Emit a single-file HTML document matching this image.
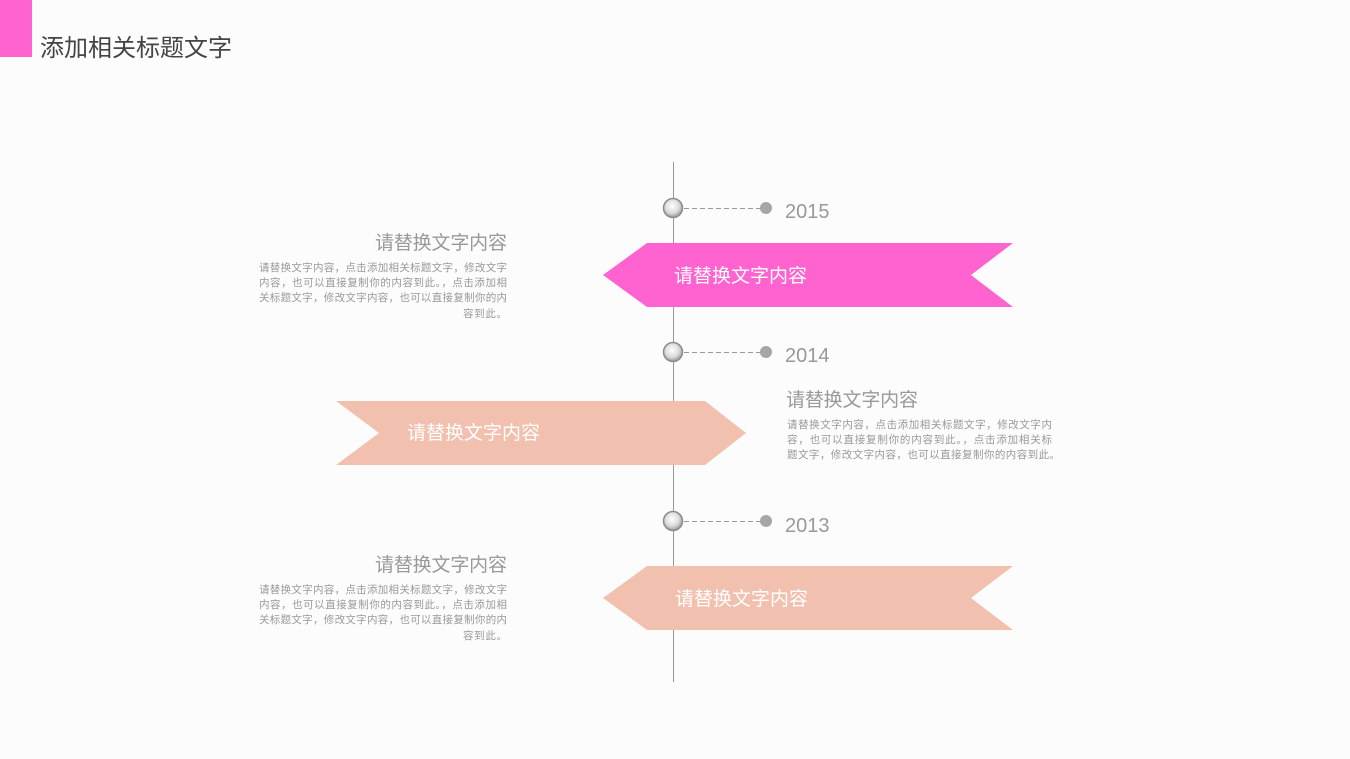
<!DOCTYPE html>
<html><head><meta charset="utf-8"><style>
body{margin:0;width:1350px;height:759px;background:#fcfcfc;overflow:hidden;font-family:"Liberation Sans","Noto Sans CJK SC",sans-serif}
</style></head><body>
<svg width="1350" height="759" xmlns="http://www.w3.org/2000/svg" style="position:absolute;left:0;top:0;font-family:'Liberation Sans','Noto Sans CJK SC',sans-serif">
<defs><radialGradient id="g" cx="45%" cy="40%" r="60%"><stop offset="0" stop-color="#ffffff"/><stop offset="0.6" stop-color="#dcdcdc"/><stop offset="1" stop-color="#9a9a9a"/></radialGradient></defs>
<rect x="0" y="0" width="32" height="57" fill="#ff63d0"/>
<text x="40" y="56" font-size="24" fill="#444" textLength="192">添加相关标题文字</text>
<line x1="673.5" y1="162" x2="673.5" y2="682" stroke="#999" stroke-width="1"/>
<polygon points="603,275 647,243 1013,243 971,275 1013,307 647,307" fill="#ff63d0"/>
<polygon points="336,401 705,401 746,433 705,465 336,465 379,433" fill="#f2c0ae"/>
<polygon points="603,598 647,566 1013,566 971,598 1013,630 647,630" fill="#f2c0ae"/>
<g stroke="#999" stroke-dasharray="5,3" stroke-width="1">
<line x1="684" y1="208.5" x2="762" y2="208.5"/><line x1="684" y1="352.5" x2="762" y2="352.5"/><line x1="684" y1="521.5" x2="762" y2="521.5"/></g>
<g fill="#a6a6a6"><circle cx="766" cy="208" r="6"/><circle cx="766" cy="352" r="6"/><circle cx="766" cy="521" r="6"/></g>
<g fill="url(#g)" stroke="#8c8c8c" stroke-width="1.5"><circle cx="673" cy="208" r="9.5"/><circle cx="673" cy="352" r="9.5"/><circle cx="673" cy="521" r="9.5"/></g>
<g font-size="20" fill="#999"><text x="785" y="218">2015</text><text x="785" y="362">2014</text><text x="785" y="532">2013</text></g>
<g font-size="19" fill="#fff"><text x="674" y="282">请替换文字内容</text><text x="407" y="439">请替换文字内容</text><text x="675" y="605">请替换文字内容</text></g>
<g font-size="19" fill="#999"><text x="375" y="249" textLength="132">请替换文字内容</text><text x="786" y="406" textLength="132">请替换文字内容</text><text x="375" y="571" textLength="132">请替换文字内容</text></g>
<g font-size="10.5" fill="#999">
<text x="259" y="271" textLength="248">请替换文字内容，点击添加相关标题文字，修改文字</text>
<text x="259" y="286" textLength="248">内容，也可以直接复制你的内容到此。，点击添加相</text>
<text x="259" y="301" textLength="248">关标题文字，修改文字内容，也可以直接复制你的内</text>
<text x="463" y="317" textLength="44">容到此。</text>
<text x="259" y="593" textLength="248">请替换文字内容，点击添加相关标题文字，修改文字</text>
<text x="259" y="608" textLength="248">内容，也可以直接复制你的内容到此。，点击添加相</text>
<text x="259" y="623" textLength="248">关标题文字，修改文字内容，也可以直接复制你的内</text>
<text x="463" y="639" textLength="44">容到此。</text>
<text x="787" y="428" textLength="265">请替换文字内容，点击添加相关标题文字，修改文字内</text>
<text x="787" y="443" textLength="265">容，也可以直接复制你的内容到此。，点击添加相关标</text>
<text x="787" y="458" textLength="273">题文字，修改文字内容，也可以直接复制你的内容到此。</text></g>
</svg>
</body></html>
